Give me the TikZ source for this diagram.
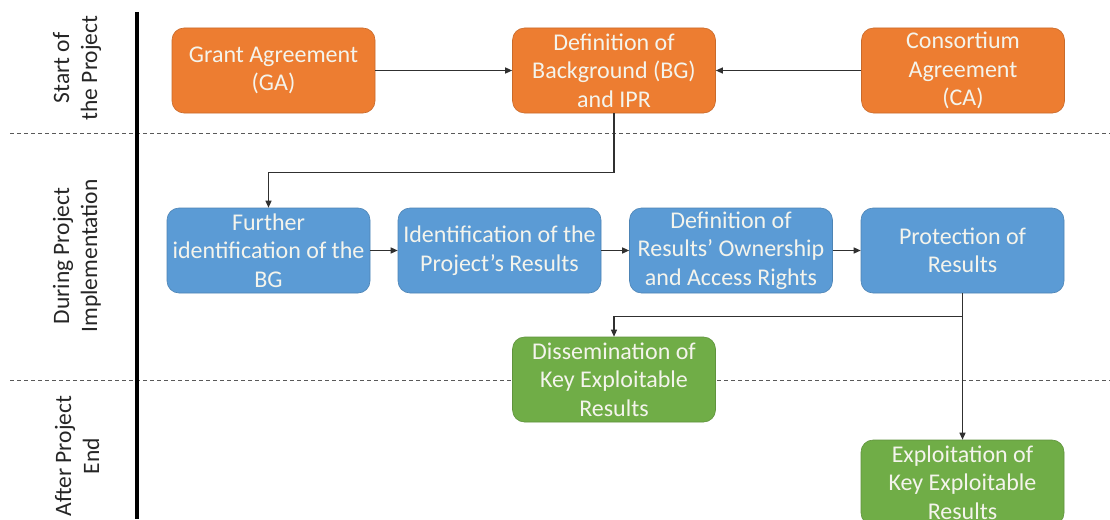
\documentclass[tikz,border=0pt]{standalone}
\usepackage{fontspec}
\setmainfont{Carlito}
\usetikzlibrary{arrows.meta}
\definecolor{orangebox}{HTML}{ED7D31}
\definecolor{bluebox}{HTML}{5B9BD5}
\definecolor{greenbox}{HTML}{70AD47}
\definecolor{boxtext}{HTML}{F4F4EC}
\definecolor{linegray}{HTML}{303030}
\tikzset{
  box/.style={rounded corners=12pt, minimum width=203pt, minimum height=85pt, inner sep=2pt,
    align=center, text=boxtext, font=\fontsize{24}{28.5}\selectfont},
  obox/.style={box, fill=orangebox, draw=orangebox!85!black, line width=0.6pt},
  bbox/.style={box, fill=bluebox, draw=bluebox!85!black, line width=0.6pt},
  gbox/.style={box, fill=greenbox, draw=greenbox!85!black, line width=0.6pt},
  arr/.style={draw=linegray, line width=1.2pt, -{Triangle[length=7pt,width=6pt]}},
  lane/.style={rotate=90, align=center, text=black!85, font=\fontsize{23.5}{28}\selectfont},
  sep/.style={draw=black!65, line width=0.9pt, dash pattern=on 4pt off 3pt}
}
\begin{document}
\begin{tikzpicture}[x=1pt, y=-1pt]
\useasboundingbox (0,0) rectangle (1110,519);
\fill[white] (0,0) rectangle (1110,519);
% lane separators
\draw[sep] (10,133) -- (1110,133);
\draw[sep] (10,380) -- (1110,380);
% thick vertical line
\draw[line width=4pt, black] (137,12) -- (137,519);
% lane labels
\node[lane] (l1) at (77,68) {Start of\\the Project};
\node[lane] (l2) at (77,256) {During Project\\Implementation};
\node[lane] (l3) at (77,456) {After Project\\End};
% top row
\node[obox] (ga) at (273.5,70.5) {Grant Agreement\\(GA)};
\node[obox] (def) at (614,70.5) {Definition of\\Background (BG)\\and IPR};
\node[obox] (ca) at (963,70.5) {Consortium\\Agreement\\(CA)};
% middle row
\node[bbox] (fur) at (268.5,250.5) {Further\\identification of the\\BG};
\node[bbox] (idr) at (499.5,250.5) {Identification of the\\Project’s Results};
\node[bbox] (own) at (731,250.5) {Definition of\\Results’ Ownership\\and Access Rights};
\node[bbox] (pro) at (962.5,250.5) {Protection of\\Results};
% bottom
\node[gbox] (dis) at (614,379.5) {Dissemination of\\Key Exploitable\\Results};
\node[gbox] (exp) at (962.5,482.5) {Exploitation of\\Key Exploitable\\Results};
% connectors
\draw[arr] (ga.east) -- (def.west);
\draw[arr] (ca.west) -- (def.east);
\draw[arr] (def.south) -- ++(0,59) -| (fur.north);
\draw[arr] (fur.east) -- (idr.west);
\draw[arr] (idr.east) -- (own.west);
\draw[arr] (own.east) -- (pro.west);
\draw[arr] (pro.south) -- (exp.north);
\path (pro.south) ++(0,23) coordinate (br);
\draw[arr] (br) -| (dis.north);
\end{tikzpicture}
\end{document}
